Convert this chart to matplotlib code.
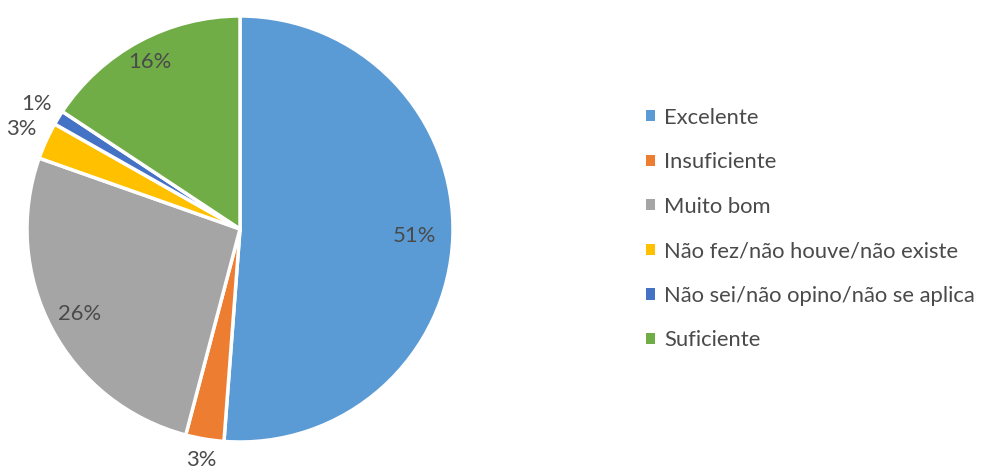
import numpy as np
import matplotlib.pyplot as plt

plt.rcParams['font.family'] = ['Lato', 'DejaVu Sans']

categories = ['Excelente', 'Insuficiente', 'Muito bom',
              'Não fez/não houve/não existe', 'Não sei/não opino/não se aplica',
              'Suficiente']
shares = [51.2, 2.9, 26.3, 2.8, 1.1, 15.7]
pct_labels = ['51%', '3%', '26%', '3%', '1%', '16%']
colors = ['#5B9BD5', '#ED7D31', '#A5A5A5', '#FFC000', '#4472C4', '#70AD47']
label_dist = [0.82, 1.10, 0.85, 1.13, 1.12, 0.89]

W, H = 983, 471
fig = plt.figure(figsize=(W / 100, H / 100), dpi=100)
cx, cy, r = 240, 229, 213
ax = fig.add_axes([(cx - r) / W, (H - cy - r) / H, 2 * r / W, 2 * r / H])

wedges, _ = ax.pie(shares, colors=colors, startangle=90, counterclock=False,
                   radius=1.0,
                   wedgeprops=dict(edgecolor='white', linewidth=2.5))
ax.set_xlim(-1, 1)
ax.set_ylim(-1, 1)
ax.set_aspect('equal')

for w, lab, d in zip(wedges, pct_labels, label_dist):
    ang = np.deg2rad((w.theta1 + w.theta2) / 2)
    ax.text(d * np.cos(ang), d * np.sin(ang), lab, ha='center', va='center',
            fontsize=15.8, color='#4a4a4a', clip_on=False)

fig.legend(wedges, categories, loc='center left', bbox_to_anchor=(637 / W, 1 - 229 / H),
           frameon=False, fontsize=15.8, labelcolor='#4a4a4a', borderaxespad=0,
           handlelength=0.4, handleheight=0.4, handletextpad=0.45,
           labelspacing=1.12)
for h in fig.legends[0].legend_handles:
    h.set_linewidth(0)

fig.savefig('out.png', dpi=100)
